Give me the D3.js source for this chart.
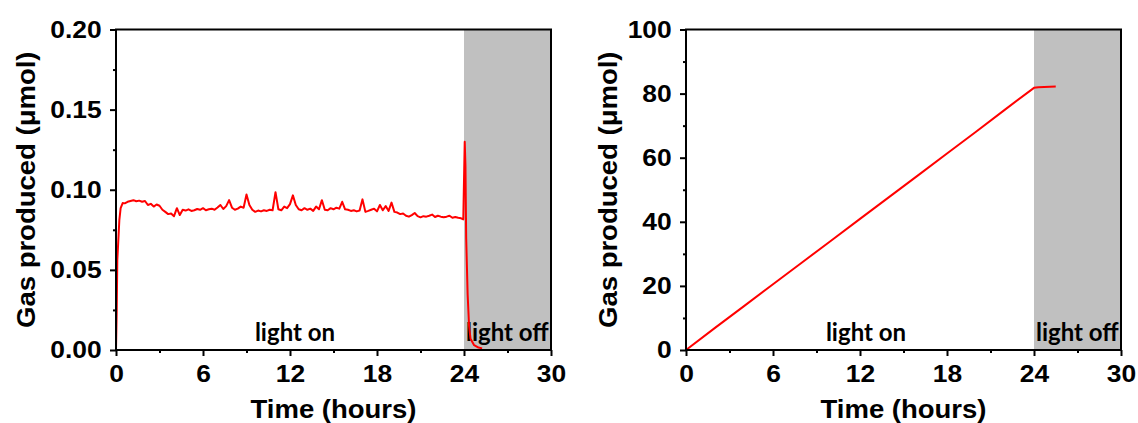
<!DOCTYPE html>
<html>
<head>
<meta charset="utf-8">
<script src="https://cdn.jsdelivr.net/npm/d3@7"></script>
<style>
  html, body { margin: 0; padding: 0; background: #fff; }
  svg { display: block; }
  .tick text { font-family: "Liberation Sans", Arial, sans-serif; font-weight: bold; font-size: 24px; fill: #000; }
</style>
</head>
<body>
<svg id="chart" width="1138" height="423"></svg>
<script>
// ---- data ----
const xTicks = [0, 6, 12, 18, 24, 30];
const xMinorTicks = [3, 9, 15, 21, 27];
const yTicksLeft = [0, 0.05, 0.10, 0.15, 0.20];
const yMinorLeft = [0.025, 0.075, 0.125, 0.175];
const yTicksRight = [0, 20, 40, 60, 80, 100];
const yMinorRight = [10, 30, 50, 70, 90];
const lightOffStart = 24;
const labelOn = "light on";
const labelOff = "light off";
const xTitle = "Time (hours)";
const yTitle = "Gas produced (\u03bcmol)";

// left: instantaneous gas produced (µmol)
const timeLeft = [
  0, 0.05, 0.09, 0.23, 0.32, 0.46,
  0.6, 0.8, 1.0, 1.2, 1.4, 1.6, 1.8, 2.0,
  2.2, 2.4, 2.6, 2.8, 3.0,
  3.2, 3.4, 3.6, 3.8, 4.0, 4.2, 4.4,
  4.6, 4.8, 5.0, 5.2, 5.4, 5.6, 5.8, 6.0, 6.2, 6.4, 6.6, 6.8, 7.0,
  7.2, 7.4, 7.6, 7.8, 8.0,
  8.2, 8.4, 8.6, 8.8, 9.0, 9.2, 9.4,
  9.6, 9.8, 10.0, 10.2, 10.4, 10.6, 10.8,
  11.0, 11.2, 11.4, 11.6, 11.8, 12.0, 12.2, 12.4, 12.6,
  12.8, 13.0, 13.2, 13.4, 13.6, 13.8, 14.0,
  14.2, 14.4, 14.6, 14.8, 15.0, 15.2, 15.4,
  15.6, 15.8, 16.0, 16.2, 16.4, 16.6, 16.8,
  17.0, 17.2, 17.4, 17.6, 17.8, 18.0, 18.2, 18.4, 18.6, 18.8, 19.0, 19.2, 19.4,
  19.6, 19.8, 20.0, 20.2, 20.4, 20.6, 20.8, 21.0, 21.2, 21.4, 21.6, 21.8,
  22.0, 22.2, 22.4, 22.6, 22.8, 23.0, 23.2, 23.4, 23.6, 23.8,
  23.95, 24.05, 24.1, 24.15, 24.25, 24.35, 24.45, 24.7, 25.0, 25.25
];
const gasLeft = [
  0, 0.025, 0.056, 0.081, 0.0886, 0.0917,
  0.0915, 0.0925, 0.093, 0.0935, 0.0928, 0.0932, 0.0925, 0.093,
  0.0905, 0.0912, 0.0895, 0.0908, 0.090,
  0.0875, 0.0862, 0.0848, 0.0852, 0.0835, 0.0885, 0.0842,
  0.0875, 0.087, 0.0878, 0.0868, 0.0872, 0.088, 0.0875, 0.0885, 0.0872, 0.0878, 0.0882, 0.0875, 0.0889,
  0.0905, 0.088, 0.0898, 0.0935, 0.0888,
  0.0875, 0.0882, 0.0895, 0.0888, 0.097, 0.0905, 0.0875,
  0.0862, 0.087, 0.0865, 0.0872, 0.0868, 0.0875, 0.0872,
  0.0985, 0.0878, 0.0872, 0.0895, 0.0885, 0.091, 0.0965, 0.0905, 0.0878,
  0.0872, 0.0885, 0.0875, 0.0882, 0.0868, 0.0895, 0.0878,
  0.0935, 0.0875, 0.0872, 0.0885, 0.0878, 0.0888, 0.0882,
  0.0925, 0.0878, 0.0875, 0.0868, 0.0872, 0.0865, 0.087,
  0.094, 0.0862, 0.0868, 0.0875, 0.0882, 0.0865, 0.0905, 0.0872, 0.0898, 0.0868, 0.092, 0.0862, 0.0858,
  0.0848, 0.0852, 0.0838, 0.0832, 0.0842, 0.0855, 0.0835, 0.0828, 0.0835, 0.0832, 0.0838, 0.0845,
  0.083, 0.0838, 0.0832, 0.0828, 0.0832, 0.0838, 0.0825, 0.083, 0.0825, 0.0822,
  0.0815, 0.13, 0.115, 0.07, 0.035, 0.015, 0.007, 0.003, 0.0015, 0.001
];

// right: cumulative gas produced (µmol)
const timeRight = [0, 2, 4, 6, 8, 10, 12, 14, 16, 18, 20, 22, 24, 24.3, 25.5];
const gasRight  = [0, 6.9, 13.7, 20.5, 27.3, 34.1, 40.9, 47.7, 54.5, 61.3, 68.1, 75.0, 81.8, 82.0, 82.2];

// ---- drawing ----
const svg = d3.select("#chart");
const fontFamily = '"Liberation Sans", Arial, sans-serif';
const stretch = "scale(1.1,1)";

function panel(cfg) {
  const x = d3.scaleLinear().domain([0, 30]).range([cfg.x0, cfg.x1]);
  const y = d3.scaleLinear().domain(cfg.yDomain).range([350, 29.5]);
  const g = svg.append("g");

  // shaded light-off region
  g.append("rect")
    .attr("x", x(lightOffStart)).attr("y", y(cfg.yDomain[1]))
    .attr("width", x(30) - x(lightOffStart)).attr("height", y(cfg.yDomain[0]) - y(cfg.yDomain[1]))
    .attr("fill", "#c0c0c0");

  // labels
  g.append("text").text(labelOn)
    .attr("x", (x(0) + x(lightOffStart)) / 2 + cfg.onShift).attr("y", 341)
    .attr("text-anchor", "middle")
    .style("font-family", "Lato, sans-serif").style("font-weight", "bold").style("font-size", "24px");
  g.append("text").text(labelOff)
    .attr("x", x(lightOffStart) + 2).attr("y", 341)
    .style("font-family", "Lato, sans-serif").style("font-weight", "bold").style("font-size", "24px");

  // data line
  const line = d3.line().x((d, i) => x(cfg.t[i])).y(d => y(d));
  g.append("path").datum(cfg.v)
    .attr("d", line)
    .attr("fill", "none").attr("stroke", "#ff0000").attr("stroke-width", 2)
    .attr("stroke-linejoin", "round");

  // frame
  g.append("rect")
    .attr("x", x(0)).attr("y", y(cfg.yDomain[1]))
    .attr("width", x(30) - x(0)).attr("height", y(cfg.yDomain[0]) - y(cfg.yDomain[1]))
    .attr("fill", "none").attr("stroke", "#000").attr("stroke-width", 2);

  // axes
  const xa = g.append("g").attr("transform", `translate(0,${y(cfg.yDomain[0])})`)
    .call(d3.axisBottom(x).tickValues(xTicks).tickSize(6).tickPadding(9).tickFormat(d3.format("d")));
  const xm = g.append("g").attr("transform", `translate(0,${y(cfg.yDomain[0])})`)
    .call(d3.axisBottom(x).tickValues(xMinorTicks).tickSize(3).tickFormat(""));
  const ya = g.append("g").attr("transform", `translate(${x(0)},0)`)
    .call(d3.axisLeft(y).tickValues(cfg.yTicks).tickSize(6).tickPadding(7).tickFormat(cfg.fmt));
  const ym = g.append("g").attr("transform", `translate(${x(0)},0)`)
    .call(d3.axisLeft(y).tickValues(cfg.yMinor).tickSize(3).tickFormat(""));
  [xa, xm, ya, ym].forEach(a => {
    a.select(".domain").remove();
    a.selectAll("line").attr("stroke", "#000").attr("stroke-width", 2);
    a.selectAll("text").attr("font-family", null).attr("font-size", null).attr("transform", stretch);
  });

  // titles
  g.append("text").text(xTitle)
    .attr("transform", `translate(${(x(0) + x(30)) / 2},418) ${stretch}`)
    .attr("text-anchor", "middle")
    .style("font-family", fontFamily).style("font-weight", "bold").style("font-size", "25px");
  g.append("text").text(yTitle)
    .attr("transform", `translate(${cfg.titleX},${(y(cfg.yDomain[0]) + y(cfg.yDomain[1])) / 2}) rotate(-90) ${stretch}`)
    .attr("text-anchor", "middle")
    .style("font-family", fontFamily).style("font-weight", "bold").style("font-size", "25px");
}

panel({ x0: 116, x1: 551, yDomain: [0, 0.20], yTicks: yTicksLeft, yMinor: yMinorLeft,
        fmt: d3.format(".2f"), t: timeLeft, v: gasLeft, titleX: 35, onShift: 5 });
panel({ x0: 686, x1: 1121, yDomain: [0, 100], yTicks: yTicksRight, yMinor: yMinorRight,
        fmt: d3.format("d"), t: timeRight, v: gasRight, titleX: 617, onShift: 6 });
</script>
</body>
</html>
